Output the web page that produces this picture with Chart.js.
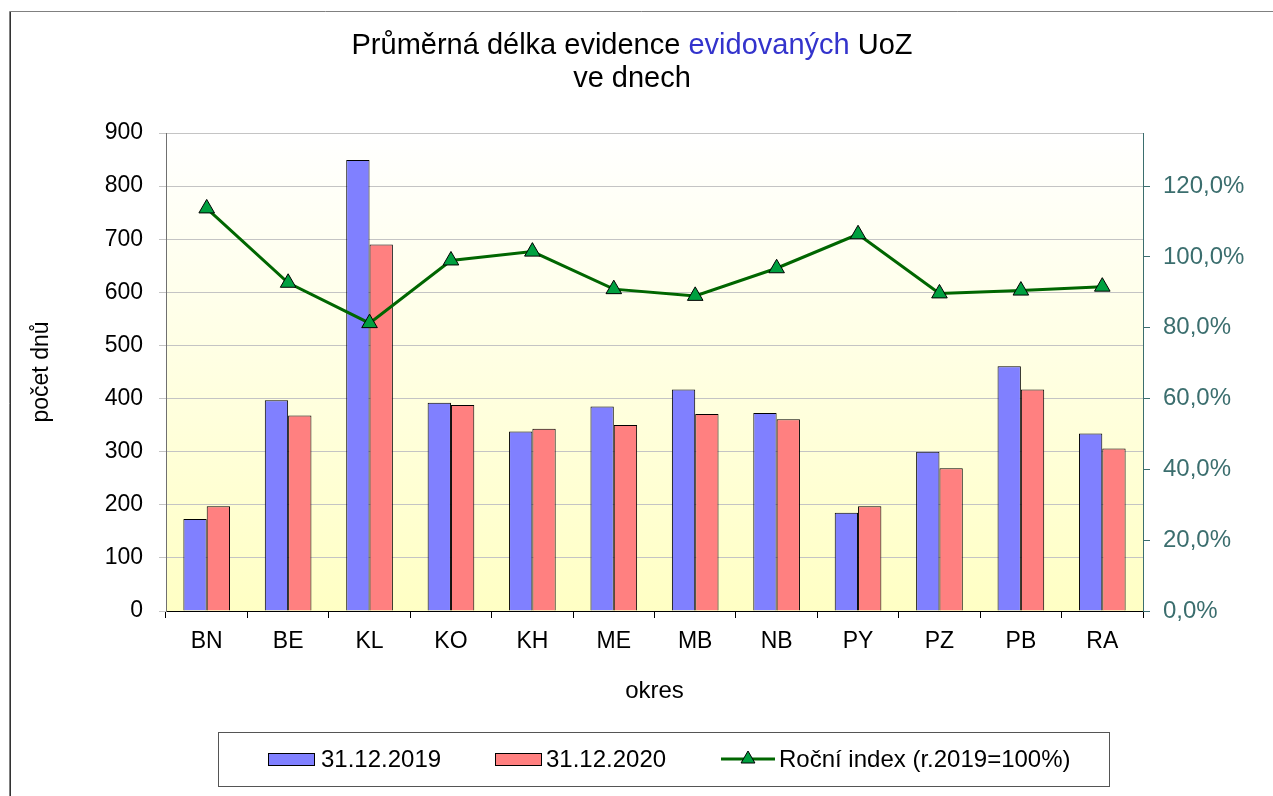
<!DOCTYPE html>
<html>
<head>
<meta charset="utf-8">
<script src="https://cdn.jsdelivr.net/npm/chart.js@4/dist/chart.umd.min.js"></script>
<style>
  html, body { margin: 0; padding: 0; background: #ffffff; }
  #wrap { width: 1273px; height: 796px; position: relative; }
</style>
</head>
<body>
<div id="wrap"><canvas id="c" width="1273" height="796"></canvas></div>
<script>
const categories = ['BN', 'BE', 'KL', 'KO', 'KH', 'ME', 'MB', 'NB', 'PY', 'PZ', 'PB', 'RA'];
const values2019 = [173, 397, 849, 392, 338, 385, 417, 373, 185, 300, 461, 334];
const values2020 = [197, 368, 690, 388, 343, 350, 371, 361, 197, 269, 417, 306];
const yearIndex = [1.137, 0.927, 0.813, 0.990, 1.015, 0.909, 0.890, 0.968, 1.064, 0.897, 0.905, 0.916];
const leftTicks = [0, 100, 200, 300, 400, 500, 600, 700, 800, 900];
const rightTicks = [0, 0.2, 0.4, 0.6, 0.8, 1.0, 1.2];
const seriesLabels = ['31.12.2019', '31.12.2020', 'Roční index (r.2019=100%)'];
const titleParts = [['Průměrná délka evidence ', '#000000'], ['evidovaných', '#3333cc'], [' UoZ', '#000000']];
const titleLine2 = 've dnech';
const xTitle = 'okres';
const yTitle = 'počet dnů';

const FONT = "'Liberation Sans', Arial, sans-serif";
const RIGHT_COLOR = '#3b6e6e';

const decorPlugin = {
  id: 'decor',
  beforeDraw(chart) {
    const ctx = chart.ctx;
    const a = chart.chartArea;
    ctx.save();
    ctx.fillStyle = '#ffffff';
    ctx.fillRect(0, 0, chart.width, chart.height);
    // outer frame (top + left)
    ctx.strokeStyle = '#808080';
    ctx.lineWidth = 1;
    ctx.beginPath();
    ctx.moveTo(9.5, chart.height);
    ctx.lineTo(9.5, 11.5);
    ctx.lineTo(chart.width, 11.5);
    ctx.stroke();
    ctx.strokeStyle = '#333333';
    ctx.beginPath();
    ctx.moveTo(10.5, chart.height);
    ctx.lineTo(10.5, 12);
    ctx.stroke();
    // plot background gradient
    const g = ctx.createLinearGradient(0, a.top, 0, a.bottom);
    g.addColorStop(0, '#ffffff');
    g.addColorStop(1, '#ffffc4');
    ctx.fillStyle = g;
    ctx.fillRect(a.left, a.top, a.right - a.left, a.bottom - a.top);
    ctx.restore();
  },
  afterDraw(chart) {
    const ctx = chart.ctx;
    ctx.save();
    // title
    ctx.font = '29px ' + FONT;
    ctx.textBaseline = 'middle';
    ctx.textAlign = 'left';
    let total = 0;
    titleParts.forEach(p => total += ctx.measureText(p[0]).width);
    let x = 632 - total / 2;
    titleParts.forEach(p => {
      ctx.fillStyle = p[1];
      ctx.fillText(p[0], x, 46);
      x += ctx.measureText(p[0]).width;
    });
    ctx.fillStyle = '#000000';
    ctx.textAlign = 'center';
    ctx.fillText(titleLine2, 632, 79);

    // legend
    ctx.strokeStyle = '#555555';
    ctx.lineWidth = 1;
    ctx.strokeRect(218.5, 732.5, 891, 54);
    const ds = chart.data.datasets;
    const cy = 759;
    ctx.font = '24px ' + FONT;
    ctx.textAlign = 'left';
    ctx.textBaseline = 'middle';
    // bar items
    [[0, 268, 321], [1, 495, 546]].forEach(([i, bx, tx]) => {
      ctx.fillStyle = ds[i].backgroundColor;
      ctx.fillRect(bx, cy - 6, 46, 12);
      ctx.strokeStyle = '#000000';
      ctx.strokeRect(bx + 0.5, cy - 6 + 0.5, 46, 12);
      ctx.fillStyle = '#000000';
      ctx.fillText(ds[i].label, tx, cy + 1);
    });
    // line item
    const L = ds[2];
    ctx.strokeStyle = L.borderColor;
    ctx.lineWidth = 3;
    ctx.beginPath();
    ctx.moveTo(721, cy);
    ctx.lineTo(775, cy);
    ctx.stroke();
    ctx.lineWidth = 1;
    ctx.fillStyle = L.pointBackgroundColor;
    ctx.strokeStyle = '#000000';
    const r = 8;
    ctx.beginPath();
    ctx.moveTo(748, cy - r);
    ctx.lineTo(748 + r * 0.866, cy + r * 0.5);
    ctx.lineTo(748 - r * 0.866, cy + r * 0.5);
    ctx.closePath();
    ctx.fill();
    ctx.stroke();
    ctx.fillStyle = '#000000';
    ctx.fillText(L.label, 779, cy + 1);
    ctx.restore();
  }
};

new Chart(document.getElementById('c'), {
  data: {
    labels: categories,
    datasets: [
      {
        type: 'bar', label: seriesLabels[0], data: values2019, yAxisID: 'y',
        backgroundColor: '#8080ff', borderColor: '#000000', borderWidth: 1,
        barPercentage: 1, categoryPercentage: 0.573, order: 2
      },
      {
        type: 'bar', label: seriesLabels[1], data: values2020, yAxisID: 'y',
        backgroundColor: '#ff8080', borderColor: '#000000', borderWidth: 1,
        barPercentage: 1, categoryPercentage: 0.573, order: 2
      },
      {
        type: 'line', label: seriesLabels[2], data: yearIndex, yAxisID: 'y2',
        borderColor: '#006600', borderWidth: 3, tension: 0,
        pointStyle: 'triangle', pointRadius: 9, pointHoverRadius: 9,
        pointBackgroundColor: '#00a040', pointBorderColor: '#000000', pointBorderWidth: 1,
        order: 0
      }
    ]
  },
  options: {
    responsive: false,
    animation: false,
    devicePixelRatio: 1,
    layout: { padding: { left: 0, right: 0, top: 133, bottom: 85 } },
    plugins: {
      legend: { display: false },
      title: { display: false },
      tooltip: { enabled: false }
    },
    scales: {
      x: {
        type: 'category',
        offset: true,
        grid: { offset: true, drawOnChartArea: false, drawTicks: true, tickLength: 7, color: '#000000', lineWidth: 1 },
        border: { display: true, color: '#000000', width: 1 },
        ticks: { color: '#000000', font: { family: FONT, size: 23 }, padding: 10, maxRotation: 0 },
        title: { display: true, text: xTitle, color: '#000000', font: { family: FONT, size: 24 }, padding: { top: 0, bottom: 5 } },
        afterFit(scale) { scale.height = 100; }
      },
      y: {
        type: 'linear', position: 'left', min: 0, max: 900,
        afterBuildTicks(scale) { scale.ticks = leftTicks.map(v => ({ value: v })); },
        grid: { color: '#c4c4c4', lineWidth: 1, tickLength: 7, drawTicks: true },
        border: { display: true, color: '#707070', width: 1 },
        ticks: { color: '#000000', font: { family: FONT, size: 23 }, padding: 16 },
        title: { display: true, text: yTitle, color: '#000000', font: { family: FONT, size: 23 }, padding: { top: 28, bottom: 0 } },
        afterFit(scale) { scale.width = 166; }
      },
      y2: {
        type: 'linear', position: 'right', min: 0, max: 1.35,
        afterBuildTicks(scale) { scale.ticks = rightTicks.map(v => ({ value: v })); },
        grid: { drawOnChartArea: false, drawTicks: true, tickLength: 7, color: RIGHT_COLOR },
        border: { display: true, color: RIGHT_COLOR, width: 1 },
        ticks: {
          color: RIGHT_COLOR, font: { family: FONT, size: 24 }, padding: 13,
          callback: v => (v * 100).toFixed(1).replace('.', ',') + '%'
        },
        afterFit(scale) { scale.width = 130; }
      }
    }
  },
  plugins: [decorPlugin]
});
</script>
</body>
</html>
